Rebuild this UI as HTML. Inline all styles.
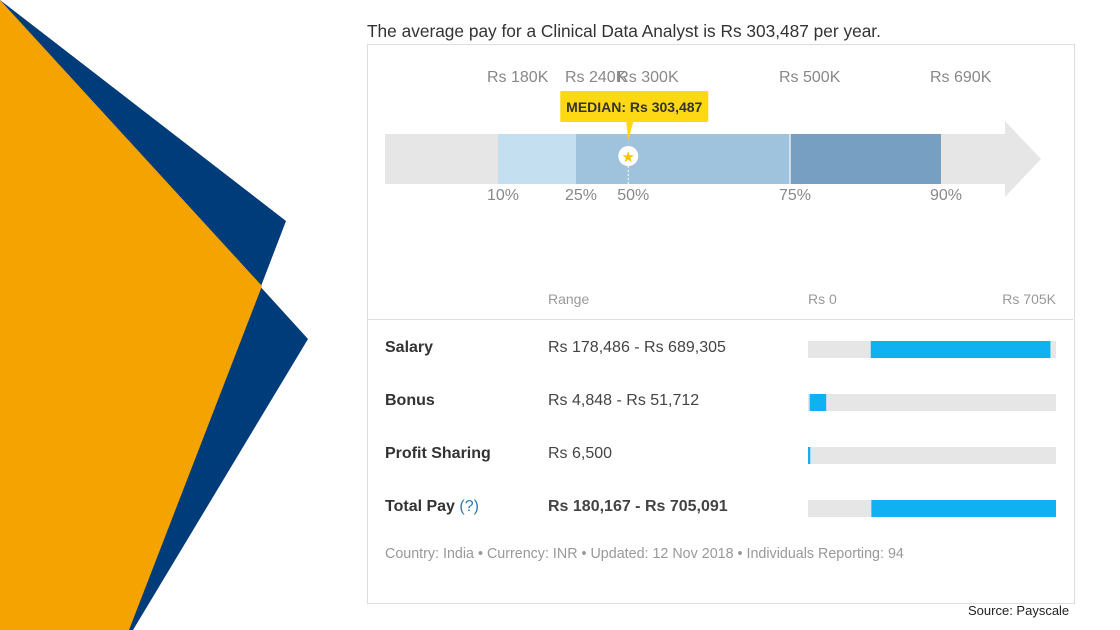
<!DOCTYPE html>
<html><head><meta charset="utf-8"><style>
body{margin:0;width:1120px;height:630px;background:#fff;position:relative;overflow:hidden;font-family:"Liberation Sans",sans-serif}
.t{position:absolute;white-space:nowrap}
</style></head><body>
<svg width="1120" height="630" style="position:absolute;left:0;top:0">
<polygon points="0,0 286,221 129,630 0,630" fill="#003B7A"/>
<polygon points="0,0 308,339 133,630 0,630" fill="#003B7A"/>
<polygon points="0,0 262,286 129,630 0,630" fill="#F5A300"/>
</svg>
<div class="t" style="left:367px;top:21px;font-size:17.3px;color:#333">The average pay for a Clinical Data Analyst is Rs 303,487 per year.</div>
<div style="position:absolute;left:367px;top:44px;width:706px;height:558px;border:1px solid #ddd"></div>
<svg id="chart" width="1120" height="630" style="position:absolute;left:0;top:0"></svg>
<div class="t" style="left:968px;top:603px;font-size:13px;color:#222">Source: Payscale</div>
<script>
const pctLabels=["10%","25%","50%","75%","90%"];
const pctValues=[180,240,303.487,500,690];
const valueLabels=["Rs 180K","Rs 240K","Rs 300K","Rs 500K","Rs 690K"];
const medianValue=303.487;
const rowNames=["Salary","Bonus","Profit Sharing","Total Pay"];
const rowRanges=["Rs 178,486 - Rs 689,305","Rs 4,848 - Rs 51,712","Rs 6,500","Rs 180,167 - Rs 705,091"];
const rowLow=[178486,4848,0,180167];
const rowHigh=[689305,51712,6500,705091];
const rowMax=705091;
const NS="http://www.w3.org/2000/svg";
const svg=document.getElementById('chart');
function mk(tag,attrs,parent){const e=document.createElementNS(NS,tag);for(const k in attrs)e.setAttribute(k,attrs[k]);(parent||svg).appendChild(e);return e;}
const dom=[0,180,240,500,690,900],rng=[385,498,576,790,941,1005];
function px(v){for(let i=1;i<dom.length;i++){if(v<=dom[i]){return rng[i-1]+(v-dom[i-1])/(dom[i]-dom[i-1])*(rng[i]-rng[i-1]);}}return rng[rng.length-1];}
const arrow=mk('polygon',{points:"385,134 1005,134 1005,121 1041,159 1005,197 1005,184 385,184",fill:"#e6e6e6"});


const segCols=["#c4dff0","#9fc3dc","#9fc3dc","#779fc2"];
const segIdx=[[0,1],[1,2],[2,3],[3,4]];
segIdx.forEach((p,i)=>{const x0=px(pctValues[p[0]]),x1=px(pctValues[p[1]]);
const r=mk('rect',{x:x0,y:134,width:x1-x0,height:50,fill:segCols[i]});

});
const sep=mk('line',{x1:px(500),x2:px(500),y1:134,y2:184,stroke:"#e6eef5","stroke-width":1.5});


pctValues.forEach((v,i)=>{const x=px(v);
const t=mk('text',{x:x-11,y:82,"font-size":16,fill:"#888"});t.textContent=valueLabels[i];


const p=mk('text',{x:x-11,y:200,"font-size":16,fill:"#888"});p.textContent=pctLabels[i];

});
const mx=px(medianValue);
const dl=mk('line',{x1:mx,x2:mx,y1:166,y2:184,stroke:"#fff","stroke-dasharray":"2,2"});


const tip=mk('rect',{x:mx-68,y:91,width:148,height:31,fill:"#FFD814",rx:1});


const ptr=mk('polygon',{points:`${mx-2},122 ${mx+5},122 ${mx},140`,fill:"#FFD814"});


const tt=mk('text',{x:mx+6,y:112,"font-size":14,"font-weight":"bold",fill:"#333","text-anchor":"middle"});tt.textContent="MEDIAN: Rs 303,487";


const mc=mk('circle',{cx:mx,cy:156,r:10,fill:"#fff"});


const st=mk('text',{x:mx,y:162,"font-size":15,fill:"#F5C400","text-anchor":"middle"});st.textContent="★";


function hdr(x,y,txt,name,anchor){const e=mk('text',{x:x,y:y,"font-size":14,fill:"#999","text-anchor":anchor||"start"});e.textContent=txt;

}
hdr(548,304,"Range","range-header");
hdr(808,304,"Rs 0","scale-min-label");
hdr(1056,304,"Rs 705K","scale-max-label","end");
const hl=mk('line',{x1:368,x2:1073,y1:319.5,y2:319.5,stroke:"#ddd"});


const bx0=808,bw=248;
function bx(v){return bx0+v/rowMax*bw;}
rowNames.forEach((n,i)=>{const y=347+i*53;
const nt=mk('text',{x:385,y:y+5,"font-size":16,"font-weight":"bold",fill:"#333"});nt.textContent=n;
if(n==="Total Pay"){const q=mk('tspan',{fill:"#2a7ab8","font-weight":"normal"});q.textContent=" (?)";nt.appendChild(q);}


const rt=mk('text',{x:548,y:y+5,"font-size":16,fill:"#444","font-weight":i===3?"bold":"normal"});rt.textContent=rowRanges[i];


const bg=mk('rect',{x:bx0,y:y-6,width:bw,height:17,fill:"#e6e6e6"});


const w=Math.max(2,bx(rowHigh[i])-bx(rowLow[i]));
const b=mk('rect',{x:bx(rowLow[i]),y:y-6,width:w,height:17,fill:"#10b1f3"});

});
const ft=mk('text',{x:385,y:558,"font-size":14.3,fill:"#999"});ft.textContent="Country: India • Currency: INR • Updated: 12 Nov 2018 • Individuals Reporting: 94";


</script>
</body></html>
